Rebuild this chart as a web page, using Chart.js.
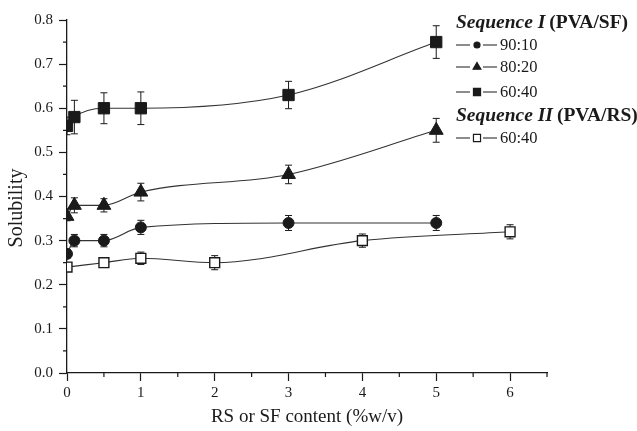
<!DOCTYPE html>
<html lang="en">
<head>
<meta charset="UTF-8">
<title>Solubility vs RS/SF content</title>
<script src="https://cdn.jsdelivr.net/npm/chart.js@4"></script>
<style>
  body { margin: 0; background: #fff; }
  #wrap { width: 637px; height: 431px; }
</style>
</head>
<body>
<div id="wrap"><canvas id="solChart" width="637" height="431"></canvas></div>
<script>
  // Sequence I (PVA/SF) - silk fibroin content
  const xSF = [0, 0.1, 0.5, 1, 3, 5];
  const sol9010 = [0.27, 0.30, 0.30, 0.33, 0.34, 0.34];
  const err9010 = [0.010, 0.014, 0.014, 0.016, 0.017, 0.017];
  const sol8020 = [0.355, 0.38, 0.38, 0.41, 0.45, 0.55];
  const err8020 = [0.010, 0.017, 0.015, 0.020, 0.021, 0.027];
  const sol6040 = [0.56, 0.58, 0.60, 0.60, 0.63, 0.75];
  const err6040 = [0.020, 0.038, 0.035, 0.037, 0.031, 0.037];

  // Sequence II (PVA/RS)
  const xRS = [0, 0.5, 1, 2, 4, 6];
  const solRS = [0.24, 0.25, 0.26, 0.25, 0.30, 0.32];
  const errRS = [0.010, 0.010, 0.014, 0.016, 0.015, 0.016];

  const xTitle = 'RS or SF content (%w/v)';
  const yTitle = 'Solubility';

  const SERIF = '"Liberation Serif", "Times New Roman", serif';
  const INK = '#1a1a1a';

  function pts(xs, ys) {
    return xs.map((x, i) => ({ x: x, y: ys[i] }));
  }

  function isMajor(v, step) {
    const k = v / step;
    return Math.abs(k - Math.round(k)) < 1e-6;
  }

  // markers sitting on the y axis get cut at the axis line
  const clipToArea = {
    id: 'clipToArea',
    beforeDatasetDraw(chart) {
      const a = chart.chartArea;
      chart.ctx.save();
      chart.ctx.beginPath();
      chart.ctx.rect(a.left, 0, chart.width - a.left, a.bottom);
      chart.ctx.clip();
    },
    afterDatasetDraw(chart) {
      chart.ctx.restore();
    }
  };

  // vertical error bars with caps, drawn under the markers
  const errorBars = {
    id: 'errorBars',
    beforeDatasetsDraw(chart) {
      const { ctx, chartArea: a, scales: { x, y } } = chart;
      ctx.save();
      ctx.beginPath();
      ctx.rect(a.left, 0, a.right - a.left, a.bottom);
      ctx.clip();
      ctx.strokeStyle = INK;
      ctx.lineWidth = 1;
      chart.data.datasets.forEach(ds => {
        ds.data.forEach((p, i) => {
          const e = ds.errors[i];
          const px = x.getPixelForValue(p.x);
          const top = y.getPixelForValue(p.y + e);
          const bot = y.getPixelForValue(p.y - e);
          ctx.beginPath();
          ctx.moveTo(px, top); ctx.lineTo(px, bot);
          ctx.moveTo(px - 3.5, top); ctx.lineTo(px + 3.5, top);
          ctx.moveTo(px - 3.5, bot); ctx.lineTo(px + 3.5, bot);
          ctx.stroke();
        });
      });
      ctx.restore();
    }
  };

  // short minor ticks, y title and the two-group legend
  const decorations = {
    id: 'decorations',
    afterDraw(chart) {
      const { ctx, chartArea: a, scales: { x, y } } = chart;
      ctx.save();
      ctx.strokeStyle = INK;
      ctx.lineWidth = 1.2;
      ctx.beginPath();
      x.ticks.forEach(t => {
        if (isMajor(t.value, 1)) return;
        const px = x.getPixelForValue(t.value);
        ctx.moveTo(px, a.bottom); ctx.lineTo(px, a.bottom + 4);
      });
      y.ticks.forEach(t => {
        if (isMajor(t.value, 0.1)) return;
        const py = y.getPixelForValue(t.value);
        ctx.moveTo(a.left, py); ctx.lineTo(a.left - 4, py);
      });
      ctx.stroke();

      ctx.fillStyle = INK;
      ctx.font = '20px ' + SERIF;
      ctx.textAlign = 'center';
      ctx.textBaseline = 'middle';
      ctx.translate(17, 208);
      ctx.rotate(-Math.PI / 2);
      ctx.fillText(yTitle, 0, 0);
      ctx.restore();

      drawLegend(ctx);
    }
  };

  function heading(ctx, x, y, italic, plain) {
    ctx.textAlign = 'left';
    ctx.textBaseline = 'middle';
    ctx.fillStyle = INK;
    ctx.font = 'italic bold 19.5px ' + SERIF;
    ctx.fillText(italic, x, y);
    const w = ctx.measureText(italic).width + 4;
    ctx.font = 'bold 19.5px ' + SERIF;
    ctx.fillText(plain, x + w, y);
  }

  function entry(ctx, x, y, style, radius, fill, label) {
    ctx.strokeStyle = INK;
    ctx.lineWidth = 1.2;
    ctx.beginPath();
    ctx.moveTo(x, y); ctx.lineTo(x + 14, y);
    ctx.moveTo(x + 27, y); ctx.lineTo(x + 41, y);
    ctx.stroke();
    ctx.fillStyle = fill;
    Chart.helpers.drawPoint(ctx, { pointStyle: style, radius: radius, borderWidth: 1, rotation: 0 }, x + 21, y);
    ctx.fillStyle = INK;
    ctx.font = '16.5px ' + SERIF;
    ctx.textAlign = 'left';
    ctx.textBaseline = 'middle';
    ctx.fillText(label, x + 44, y + 1);
  }

  function drawLegend(ctx) {
    ctx.save();
    const lx = 456;
    heading(ctx, lx, 23, 'Sequence I', '(PVA/SF)');
    entry(ctx, lx, 45, 'circle', 3, INK, '90:10');
    entry(ctx, lx, 67, 'triangle', 4.5, INK, '80:20');
    entry(ctx, lx, 92, 'rect', 5, INK, '60:40');
    heading(ctx, lx, 116, 'Sequence II', '(PVA/RS)');
    entry(ctx, lx, 138, 'rect', 5, '#fff', '60:40');
    ctx.restore();
  }

  function series(label, xs, ys, errs, style, radius, fill, bw) {
    return {
      label: label,
      data: pts(xs, ys),
      errors: errs,
      borderColor: '#333',
      borderWidth: 1.1,
      cubicInterpolationMode: 'monotone',
      pointStyle: style,
      pointRadius: radius,
      pointBackgroundColor: fill,
      pointBorderColor: INK,
      pointBorderWidth: bw
    };
  }

  new Chart(document.getElementById('solChart'), {
    type: 'line',
    data: {
      datasets: [
        series('90:10', xSF, sol9010, err9010, 'circle', 5.5, INK, 1),
        series('80:20', xSF, sol8020, err8020, 'triangle', 8, INK, 1),
        series('60:40', xSF, sol6040, err6040, 'rect', 8, INK, 1),
        series('60:40 RS', xRS, solRS, errRS, 'rect', 7, '#fff', 1.4)
      ]
    },
    options: {
      responsive: false,
      animation: false,
      layout: { padding: { top: 20, right: 90, left: 0, bottom: 0 } },
      plugins: { legend: { display: false }, tooltip: { enabled: false } },
      scales: {
        x: {
          type: 'linear',
          min: 0,
          max: 6.5,
          afterFit(s) { s.height = 58; },
          border: { color: INK, width: 1.3 },
          grid: {
            drawOnChartArea: false,
            tickLength: 8,
            tickWidth: 1.2,
            tickColor: c => isMajor(c.tick.value, 1) ? INK : 'transparent'
          },
          ticks: {
            stepSize: 0.5,
            autoSkip: false,
            maxRotation: 0,
            padding: 3,
            color: INK,
            font: { family: SERIF, size: 15 },
            callback: v => isMajor(v, 1) ? String(Math.round(v)) : ''
          },
          title: {
            display: true,
            text: xTitle,
            color: INK,
            font: { family: SERIF, size: 19 },
            padding: { top: 0, bottom: 3 }
          }
        },
        y: {
          min: 0,
          max: 0.8,
          afterFit(s) { s.width = 67; },
          border: { color: INK, width: 1.3 },
          grid: {
            drawOnChartArea: false,
            tickLength: 8,
            tickWidth: 1.2,
            tickColor: c => isMajor(c.tick.value, 0.1) ? INK : 'transparent'
          },
          ticks: {
            stepSize: 0.05,
            autoSkip: false,
            padding: 6,
            color: INK,
            font: { family: SERIF, size: 15 },
            callback: v => isMajor(v, 0.1) ? v.toFixed(1) : ''
          }
        }
      }
    },
    plugins: [clipToArea, errorBars, decorations]
  });
</script>
</body>
</html>
